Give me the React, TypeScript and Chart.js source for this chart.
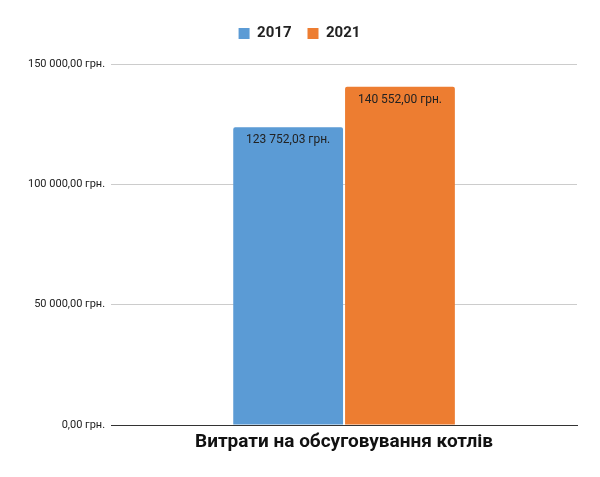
import { useEffect, useRef } from 'react'
import Chart from 'chart.js/auto'

const categories = ['Витрати на обсуговування котлів']
const years = ['2017', '2021']
const values2017 = [123752.03]
const values2021 = [140552.0]
const colors = ['#5b9bd5', '#ed7d31']

const fmt = (v: number) =>
  v
    .toFixed(2)
    .replace('.', ',')
    .replace(/\B(?=(\d{3})+(?!\d))/g, ' ') + ' грн.'

const barLabels = {
  id: 'barLabels',
  afterDatasetsDraw(chart: Chart) {
    const { ctx } = chart
    ctx.save()
    ctx.font = '12px Roboto'
    ctx.fillStyle = '#222'
    ctx.textAlign = 'center'
    ctx.textBaseline = 'top'
    chart.data.datasets.forEach((ds, i) => {
      chart.getDatasetMeta(i).data.forEach((bar: any, j) => {
        const v = ds.data[j] as number
        ctx.fillText(fmt(v), bar.x, bar.y + 7)
      })
    })
    ctx.restore()
  },
}

// extra room under the legend
const legendGap = {
  id: 'legendGap',
  beforeInit(chart: any) {
    const fit = chart.legend.fit
    chart.legend.fit = function () {
      fit.call(this)
      this.height += 13
    }
  },
}

export default function App() {
  const ref = useRef<HTMLCanvasElement>(null)

  useEffect(() => {
    if (!ref.current) return

    const chart = new Chart(ref.current, {
      type: 'bar',
      plugins: [barLabels, legendGap],
      data: {
        labels: categories,
        datasets: [
          {
            label: years[0],
            data: values2017,
            backgroundColor: colors[0],
            borderRadius: { topLeft: 2, topRight: 2 },
            borderSkipped: 'bottom',
          },
          {
            label: years[1],
            data: values2021,
            backgroundColor: colors[1],
            borderRadius: { topLeft: 2, topRight: 2 },
            borderSkipped: 'bottom',
          },
        ],
      },
      options: {
        animation: false,
        responsive: false,
        categoryPercentage: 0.48,
        barPercentage: 0.982,
        layout: { padding: { left: 22, right: 23, top: 10, bottom: 25 } },
        plugins: {
          tooltip: { enabled: false },
          legend: {
            position: 'top',
            labels: {
              boxWidth: 11,
              boxHeight: 11,
              padding: 16,
              color: '#222',
              font: { family: 'Roboto', size: 15, weight: 'bold' },
            },
          },
        },
        scales: {
          x: {
            grid: { display: false },
            border: { color: '#333', width: 1 },
            ticks: {
              color: '#111',
              padding: 0,
              font: { family: 'Roboto', size: 19, weight: 'bold', lineHeight: 1 },
            },
          },
          y: {
            min: 0,
            max: 150000,
            border: { display: false },
            grid: {
              drawTicks: false,
              color: (c: any) => (c.tick && c.tick.value === 0 ? '#333' : '#ccc'),
            },
            ticks: {
              stepSize: 50000,
              padding: 6,
              color: '#222',
              font: { family: 'Roboto', size: 11 },
              callback: (v: any) => fmt(Number(v)),
            },
          },
        },
      },
    })

    return () => chart.destroy()
  }, [])

  return (
    <div style={{ position: 'absolute', left: 0, top: 0, width: 600, height: 477 }}>
      <canvas ref={ref} width={600} height={477} />
    </div>
  )
}
